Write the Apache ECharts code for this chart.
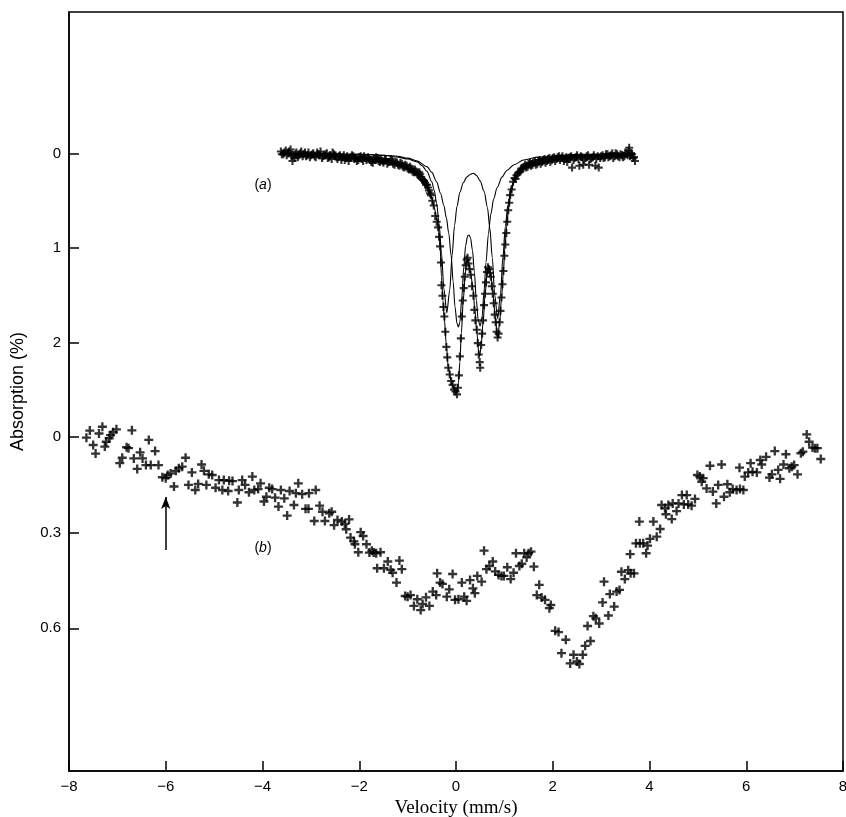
<!DOCTYPE html>
<html>
<head>
<meta charset="utf-8">
<script src="https://cdn.jsdelivr.net/npm/echarts@6/dist/echarts.min.js"></script>
<style>
  html, body { margin: 0; padding: 0; background: #fff; }
  #chart { width: 846px; height: 817px; }
</style>
</head>
<body>
<div id="chart"></div>
<script>
// velocity (mm/s), absorption (%) -- spectrum (a), upper scale
const spectrumA = [
  [-3.62,-0.02],[-3.57,0.01],[-3.52,-0.03],[-3.47,0.00],[-3.42,-0.04],[-3.38,0.08],[-3.34,0.05],[-3.30,-0.01],
  [-3.25,0.02],[-3.20,-0.02],[-3.15,0.01],[-3.10,0.03],[-3.05,-0.01],[-3.00,0.02],[-2.95,0.00],[-2.90,0.04],
  [-2.85,0.01],[-2.80,-0.02],[-2.75,0.03],[-2.70,0.01],[-2.65,0.05],[-2.60,0.02],[-2.55,-0.01],[-2.50,0.03],
  [-2.45,0.06],[-2.40,0.02],[-2.35,0.04],[-2.30,0.07],[-2.25,0.03],[-2.20,0.05],[-2.15,0.02],[-2.10,0.06],
  [-2.05,0.08],[-2.00,0.04],[-1.95,0.06],[-1.90,0.03],[-1.85,0.07],[-1.80,0.05],[-1.75,0.09],[-1.70,0.06],
  [-1.65,0.04],[-1.60,0.08],[-1.55,0.06],[-1.50,0.10],[-1.45,0.07],[-1.40,0.09],[-1.35,0.06],[-1.30,0.11],
  [-1.25,0.09],[-1.20,0.12],[-1.15,0.10],[-1.10,0.14],[-1.05,0.12],[-1.00,0.16],[-0.95,0.14],[-0.90,0.19],
  [-0.85,0.17],[-0.80,0.22],[-0.76,0.20],[-0.72,0.25],[-0.68,0.28],[-0.64,0.31],[-0.60,0.33],[-0.56,0.39],
  [-0.52,0.44],[-0.49,0.50],[-0.46,0.55],[-0.43,0.66],[-0.40,0.72],[-0.37,0.78],[-0.35,0.88],[-0.33,0.98],
  [-0.31,1.15],[-0.30,1.39],[-0.28,1.50],[-0.26,1.62],[-0.24,1.72],[-0.22,1.88],[-0.20,2.04],[-0.18,2.15],
  [-0.16,2.26],[-0.13,2.33],[-0.10,2.40],[-0.07,2.44],[-0.04,2.49],[-0.01,2.51],[0.02,2.54],[0.04,2.47],
  [0.06,2.34],[0.08,2.14],[0.10,1.95],[0.12,1.72],[0.14,1.55],[0.16,1.42],[0.18,1.30],[0.20,1.18],
  [0.22,1.12],[0.24,1.10],[0.26,1.16],[0.28,1.22],[0.30,1.28],[0.33,1.40],[0.36,1.50],[0.38,1.65],
  [0.40,1.76],[0.43,1.86],[0.45,2.00],[0.47,2.12],[0.49,2.20],[0.50,2.26],[0.52,2.02],[0.54,1.90],
  [0.56,1.76],[0.58,1.60],[0.60,1.48],[0.62,1.36],[0.64,1.25],[0.66,1.20],[0.68,1.22],[0.70,1.26],
  [0.72,1.30],[0.74,1.40],[0.76,1.48],[0.78,1.58],[0.80,1.70],[0.82,1.78],[0.84,1.88],[0.86,1.94],
  [0.88,1.90],[0.90,1.78],[0.92,1.66],[0.94,1.52],[0.96,1.38],[0.98,1.24],[1.00,1.08],[1.02,0.96],
  [1.04,0.84],[1.06,0.72],[1.08,0.60],[1.10,0.52],[1.12,0.44],[1.15,0.38],[1.18,0.30],[1.21,0.26],
  [1.25,0.23],[1.30,0.20],[1.35,0.16],[1.40,0.14],[1.45,0.15],[1.50,0.11],[1.55,0.13],[1.60,0.10],
  [1.65,0.12],[1.70,0.08],[1.75,0.11],[1.80,0.07],[1.85,0.10],[1.90,0.06],[1.95,0.09],[2.00,0.05],
  [2.05,0.08],[2.10,0.04],[2.15,0.07],[2.20,0.03],[2.25,0.06],[2.30,0.09],[2.35,0.04],[2.40,0.15],
  [2.45,0.05],[2.50,0.02],[2.55,0.13],[2.60,0.04],[2.65,0.07],[2.70,0.03],[2.75,0.12],[2.80,0.05],
  [2.85,0.02],[2.90,0.06],[2.95,0.15],[3.00,0.03],[3.05,0.05],[3.10,0.01],[3.15,0.04],[3.20,0.02],
  [3.25,0.05],[3.30,0.00],[3.35,0.03],[3.40,0.01],[3.45,0.04],[3.50,-0.01],[3.55,0.02],[3.58,-0.06],
  [3.62,0.00],[3.66,0.05],[3.70,0.08],
  // second half of the channels, lying between the ones above
  [-3.60,0.01],[-3.55,-0.01],[-3.50,0.02],[-3.45,-0.02],[-3.40,0.03],[-3.36,0.02],[-3.32,0.01],[-3.27,0.04],
  [-3.22,0.00],[-3.17,0.03],[-3.12,-0.01],[-3.07,0.02],[-3.02,0.04],[-2.97,0.01],[-2.92,0.03],[-2.87,-0.01],
  [-2.82,0.02],[-2.77,0.05],[-2.72,0.02],[-2.67,0.00],[-2.62,0.04],[-2.57,0.06],[-2.52,0.01],[-2.47,0.04],
  [-2.42,0.03],[-2.37,0.07],[-2.32,0.02],[-2.27,0.05],[-2.22,0.08],[-2.17,0.04],[-2.12,0.03],[-2.07,0.05],
  [-2.02,0.07],[-1.97,0.03],[-1.92,0.08],[-1.87,0.05],[-1.82,0.04],[-1.77,0.07],[-1.72,0.10],[-1.67,0.07],
  [-1.62,0.05],[-1.57,0.09],[-1.52,0.08],[-1.47,0.06],[-1.42,0.11],[-1.37,0.09],[-1.32,0.08],[-1.27,0.12],
  [-1.22,0.10],[-1.17,0.13],[-1.12,0.11],[-1.07,0.15],[-1.02,0.13],[-0.97,0.17],[-0.92,0.16],[-0.87,0.20],
  [-0.82,0.19],[-0.78,0.23],[-0.74,0.22],[-0.70,0.27],[-0.66,0.29],[-0.62,0.33],[-0.58,0.36],[-0.54,0.42],
  [1.23,0.27],[1.28,0.21],[1.33,0.19],[1.38,0.16],[1.43,0.12],[1.48,0.14],[1.53,0.10],[1.58,0.12],
  [1.63,0.09],[1.68,0.11],[1.73,0.07],[1.78,0.09],[1.83,0.06],[1.88,0.08],[1.93,0.05],[1.98,0.07],
  [2.03,0.04],[2.08,0.06],[2.13,0.03],[2.18,0.05],[2.23,0.08],[2.28,0.04],[2.33,0.06],[2.38,0.03],
  [2.43,0.07],[2.48,0.04],[2.53,0.06],[2.58,0.03],[2.63,0.12],[2.68,0.05],[2.73,0.02],[2.78,0.06],
  [2.83,0.04],[2.88,0.13],[2.93,0.03],[2.98,0.05],[3.03,0.02],[3.08,0.04],[3.13,0.01],[3.18,0.03],
  [3.23,0.00],[3.28,0.03],[3.33,0.01],[3.38,0.04],[3.43,0.02],[3.48,0.03],[3.53,0.00],[3.57,-0.03],
  [3.60,0.03],[3.64,0.01],[3.68,0.04]
]

// fitted envelope through (a)
const fitTotalA = [
  [-3.6,0.0],[-3.0,0.01],[-2.5,0.03],[-2.0,0.05],[-1.6,0.07],[-1.3,0.10],[-1.1,0.13],[-0.9,0.19],
  [-0.75,0.26],[-0.62,0.35],[-0.52,0.44],[-0.45,0.57],[-0.40,0.68],[-0.36,0.80],[-0.33,0.97],[-0.30,1.30],
  [-0.27,1.55],[-0.24,1.75],[-0.20,2.02],[-0.16,2.25],[-0.10,2.40],[-0.04,2.49],[0.01,2.53],[0.05,2.42],
  [0.08,2.20],[0.11,1.90],[0.15,1.55],[0.19,1.28],[0.22,1.13],[0.26,1.15],[0.30,1.25],[0.35,1.42],
  [0.39,1.65],[0.43,1.88],[0.47,2.10],[0.49,2.14],[0.52,2.02],[0.56,1.78],[0.60,1.50],[0.64,1.27],
  [0.68,1.20],[0.72,1.27],[0.76,1.45],[0.81,1.72],[0.86,1.95],[0.90,1.80],[0.94,1.53],[0.98,1.25],
  [1.01,0.99],[1.05,0.76],[1.09,0.56],[1.13,0.42],[1.20,0.30],[1.30,0.20],[1.45,0.14],[1.70,0.09],
  [2.0,0.06],[2.5,0.03],[3.0,0.02],[3.7,0.01]
]

// outer doublet component
const fitDoublet1A = [
  [-3.6,0.0],[-2.0,0.01],[-1.5,0.02],[-1.2,0.04],[-1.0,0.06],[-0.8,0.09],[-0.7,0.13],[-0.6,0.19],
  [-0.5,0.30],[-0.45,0.39],[-0.40,0.53],[-0.35,0.74],[-0.30,1.05],[-0.25,1.43],[-0.19,1.68],[-0.13,1.44],
  [-0.08,1.07],[-0.03,0.76],[0.02,0.56],[0.08,0.41],[0.15,0.31],[0.22,0.25],[0.30,0.22],[0.36,0.21],
  [0.42,0.23],[0.50,0.29],[0.58,0.40],[0.65,0.57],[0.70,0.79],[0.75,1.10],[0.80,1.49],[0.86,1.74],
  [0.92,1.48],[0.97,1.09],[1.02,0.77],[1.07,0.55],[1.15,0.34],[1.25,0.21],[1.40,0.12],[1.60,0.07],
  [2.0,0.03],[2.5,0.01],[3.7,0.0]
]

// inner doublet component
const fitDoublet2A = [
  [-3.6,0.0],[-2.0,0.01],[-1.5,0.02],[-1.2,0.03],[-1.0,0.05],[-0.8,0.08],[-0.6,0.14],[-0.5,0.20],
  [-0.4,0.30],[-0.32,0.42],[-0.25,0.55],[-0.20,0.68],[-0.15,0.84],[-0.10,1.08],[-0.06,1.35],[-0.02,1.62],
  [0.02,1.79],[0.05,1.83],[0.08,1.78],[0.12,1.52],[0.16,1.20],[0.20,0.97],[0.24,0.87],[0.27,0.86],
  [0.30,0.89],[0.34,1.02],[0.38,1.25],[0.42,1.55],[0.46,1.76],[0.50,1.82],[0.54,1.72],[0.58,1.45],
  [0.62,1.15],[0.67,0.85],[0.72,0.64],[0.78,0.48],[0.85,0.36],[0.95,0.25],[1.05,0.18],[1.20,0.12],
  [1.40,0.07],[1.70,0.04],[2.20,0.02],[3.70,0.0]
]

// spectrum (b), lower scale
const spectrumB = [
  [-7.64,0.003],[-7.57,-0.019],[-7.50,0.026],[-7.45,0.053],[-7.38,-0.010],[-7.31,-0.031],[-7.26,0.031],[-7.23,0.016],
  [-7.17,0.005],[-7.14,-0.005],[-7.09,-0.014],[-7.02,-0.023],[-6.95,0.083],[-6.90,0.066],[-6.81,0.033],[-6.77,0.036],
  [-6.70,-0.020],[-6.66,0.068],[-6.59,0.101],[-6.53,0.049],[-6.48,0.068],[-6.41,0.089],[-6.35,0.010],[-6.31,0.089],
  [-6.22,0.045],[-6.15,0.089],[-6.07,0.127],[-6.00,0.130],[-5.96,0.120],[-5.90,0.115],[-5.83,0.156],[-5.79,0.107],
  [-5.73,0.099],[-5.66,0.094],[-5.59,0.066],[-5.53,0.151],[-5.46,0.112],[-5.39,0.167],[-5.33,0.148],[-5.26,0.087],
  [-5.21,0.107],[-5.16,0.151],[-5.11,0.118],[-5.04,0.120],[-4.97,0.160],[-4.90,0.136],[-4.83,0.167],[-4.80,0.136],
  [-4.71,0.170],[-4.69,0.138],[-4.62,0.139],[-4.52,0.206],[-4.49,0.167],[-4.42,0.136],[-4.36,0.151],[-4.28,0.174],
  [-4.21,0.125],[-4.17,0.167],[-4.09,0.164],[-4.04,0.146],[-3.97,0.203],[-3.92,0.188],[-3.86,0.160],[-3.80,0.164],
  [-3.74,0.191],[-3.67,0.219],[-3.62,0.167],[-3.55,0.193],[-3.49,0.247],[-3.44,0.170],[-3.35,0.214],[-3.31,0.177],
  [-3.26,0.146],[-3.18,0.180],[-3.11,0.226],[-3.05,0.226],[-3.04,0.177],[-2.93,0.264],[-2.90,0.167],[-2.82,0.216],
  [-2.76,0.235],[-2.71,0.264],[-2.62,0.240],[-2.57,0.235],[-2.52,0.277],[-2.45,0.261],
  [-2.36,0.266],[-2.30,0.273],[-2.27,0.290],[-2.21,0.259],[-2.18,0.316],[-2.11,0.328],[-2.09,0.337],[-2.02,0.362],
  [-1.97,0.299],[-1.92,0.311],[-1.85,0.337],[-1.79,0.363],[-1.74,0.357],[-1.70,0.363],[-1.65,0.365],[-1.63,0.412],
  [-1.56,0.362],[-1.49,0.412],[-1.41,0.391],[-1.35,0.417],[-1.31,0.426],[-1.23,0.457],[-1.17,0.388],[-1.12,0.415],
  [-1.05,0.499],[-1.00,0.501],[-0.94,0.496],[-0.87,0.530],[-0.80,0.509],[-0.73,0.543],[-0.69,0.524],[-0.62,0.503],
  [-0.55,0.530],[-0.48,0.485],[-0.41,0.496],[-0.39,0.428],[-0.33,0.457],[-0.28,0.461],[-0.19,0.501],[-0.14,0.478],
  [-0.07,0.430],[-0.02,0.511],[0.05,0.509],[0.12,0.457],[0.17,0.501],[0.22,0.514],[0.29,0.449],[0.35,0.475],
  [0.39,0.490],[0.44,0.436],[0.53,0.454],[0.58,0.357],[0.63,0.415],[0.69,0.405],[0.76,0.391],[0.81,0.422],
  [0.88,0.433],[0.94,0.436],[0.99,0.436],[1.06,0.409],[1.13,0.446],[1.19,0.426],[1.24,0.365],[1.31,0.405],
  [1.36,0.398],[1.41,0.365],[1.46,0.378],[1.50,0.365],[1.55,0.360],[1.61,0.407],[1.67,0.496],[1.72,0.464],
  [1.77,0.504],[1.84,0.511],[1.93,0.537],[1.96,0.527],[2.05,0.608],[2.12,0.612],[2.18,0.678],[2.27,0.636],
  [2.36,0.710],[2.43,0.683],[2.50,0.704],[2.55,0.712],[2.62,0.683],[2.67,0.655],[2.72,0.593],
  [2.78,0.640],[2.84,0.562],[2.89,0.569],[2.96,0.585],[3.03,0.519],[3.06,0.454],[3.15,0.560],[3.18,0.493],
  [3.27,0.532],[3.32,0.485],[3.38,0.480],[3.42,0.423],[3.49,0.446],[3.56,0.418],[3.60,0.368],[3.61,0.428],
  [3.68,0.428],[3.72,0.334],[3.79,0.266],[3.80,0.334],[3.87,0.334],[3.93,0.365],[3.96,0.341],[4.01,0.320],
  [4.08,0.266],[4.15,0.313],[4.22,0.289],[4.25,0.214],[4.32,0.224],[4.34,0.243],[4.39,0.214],[4.46,0.258],
  [4.48,0.209],[4.56,0.233],[4.60,0.209],[4.67,0.183],[4.71,0.212],[4.77,0.183],[4.80,0.212],[4.87,0.216],
  [4.94,0.195],[4.99,0.120],[5.04,0.125],[5.08,0.141],[5.11,0.130],[5.18,0.162],[5.25,0.091],[5.31,0.172],
  [5.38,0.209],[5.42,0.151],[5.49,0.087],[5.54,0.188],[5.61,0.149],[5.66,0.174],[5.72,0.164],[5.80,0.167],
  [5.86,0.097],[5.87,0.164],[5.94,0.167],[5.97,0.125],[6.04,0.112],[6.09,0.083],[6.13,0.110],[6.22,0.112],
  [6.29,0.073],[6.32,0.087],[6.41,0.063],[6.48,0.128],[6.53,0.118],[6.59,0.045],[6.66,0.104],[6.70,0.132],
  [6.77,0.087],[6.82,0.055],[6.89,0.099],[6.94,0.094],[6.99,0.089],[7.06,0.118],[7.13,0.052],[7.17,0.047],
  [7.25,-0.007],[7.30,0.016],[7.37,0.034],[7.42,0.036],[7.47,0.036],[7.54,0.070]
]

const yTicksA = [0, 1, 2]
const yTicksB = [0, 0.3, 0.6]
// arrow under spectrum (b): velocity, tail / head absorption
const arrowB = [-6, 0.355, 0.189]

const cross = 'path://M3.7,0h2.6v3.7h3.7v2.6h-3.7v3.7h-2.6v-3.7h-3.7v-2.6h3.7z'
const sans = 'Liberation Sans'

const fitLine = (data) => ({
  type: 'line',
  yAxisIndex: 0,
  data: data,
  showSymbol: false,
  smooth: 0.3,
  smoothMonotone: 'x',
  silent: true,
  lineStyle: { color: '#000', width: 1.1 },
  z: 2
})

const option = {
  backgroundColor: '#fff',
  animation: false,
  grid: {
    left: 69,
    right: 3,
    top: 12,
    bottom: 46,
    show: true,
    borderColor: '#000',
    borderWidth: 1.5,
    outerBoundsMode: 'none'
  },
  xAxis: {
    type: 'value',
    min: -8,
    max: 8,
    interval: 2,
    splitLine: { show: false },
    axisLine: { show: true, onZero: false, lineStyle: { color: '#000', width: 1.5 } },
    axisTick: { show: true, inside: true, length: 10, lineStyle: { color: '#000', width: 1.5 } },
    axisLabel: {
      color: '#000', fontSize: 15, fontFamily: sans, margin: 8,
      formatter: (v) => String(v).replace('-', '\u2212')
    },
    name: 'Velocity (mm/s)',
    nameLocation: 'middle',
    nameGap: 27,
    nameTextStyle: { color: '#000', fontSize: 19, fontFamily: 'Liberation Serif' }
  },
  yAxis: [
    {
      type: 'value',
      inverse: true,
      min: -1.49,
      max: 6.51,
      position: 'left',
      splitLine: { show: false },
      axisLine: { show: true, onZero: false, lineStyle: { color: '#000', width: 1.5 } },
      axisTick: { show: true, inside: true, length: 10, customValues: yTicksA, lineStyle: { color: '#000', width: 1.5 } },
      axisLabel: { color: '#000', fontSize: 15, fontFamily: sans, margin: 8, customValues: yTicksA },
      name: 'Absorption (%)',
      nameLocation: 'middle',
      nameRotate: 90,
      nameGap: 42,
      nameTextStyle: { color: '#000', fontSize: 18, fontFamily: sans }
    },
    {
      type: 'value',
      inverse: true,
      min: -1.330,
      max: 1.047,
      position: 'left',
      offset: 0,
      splitLine: { show: false },
      axisLine: { show: false, onZero: false },
      axisTick: { show: true, inside: true, length: 10, customValues: yTicksB, lineStyle: { color: '#000', width: 1.5 } },
      axisLabel: { color: '#000', fontSize: 15, fontFamily: sans, margin: 8, customValues: yTicksB }
    }
  ],
  series: [
    fitLine(fitDoublet1A),
    fitLine(fitDoublet2A),
    fitLine(fitTotalA),
    {
      type: 'scatter',
      yAxisIndex: 0,
      data: spectrumA,
      symbol: cross,
      symbolSize: 8,
      itemStyle: { color: '#000' },
      silent: true,
      z: 3,
      markPoint: {
        symbol: 'rect',
        symbolSize: 1,
        itemStyle: { color: 'rgba(0,0,0,0)' },
        label: {
          show: true, position: 'inside', color: '#000', fontSize: 14, fontFamily: sans,
          formatter: '({i|a})', rich: { i: { fontStyle: 'italic', fontSize: 14, fontFamily: sans } }
        },
        data: [{ coord: [-3.99, 0.334] }]
      }
    },
    {
      type: 'scatter',
      yAxisIndex: 1,
      data: spectrumB,
      symbol: cross,
      symbolSize: 9,
      itemStyle: { color: '#000' },
      silent: true,
      z: 3,
      markPoint: {
        symbol: 'rect',
        symbolSize: 1,
        itemStyle: { color: 'rgba(0,0,0,0)' },
        label: {
          show: true, position: 'inside', color: '#000', fontSize: 14, fontFamily: sans,
          formatter: '({i|b})', rich: { i: { fontStyle: 'italic', fontSize: 14, fontFamily: sans } }
        },
        data: [{ coord: [-3.99, 0.349] }]
      },
      markLine: {
        silent: true,
        symbol: ['none', 'arrow'],
        symbolSize: [7, 12],
        label: { show: false },
        lineStyle: { color: '#000', width: 1.5, type: 'solid' },
        data: [[{ coord: [arrowB[0], arrowB[1]] }, { coord: [arrowB[0], arrowB[2]] }]]
      }
    }
  ]
}

const chart = echarts.init(document.getElementById('chart'))
chart.setOption(option)
</script>
</body>
</html>
